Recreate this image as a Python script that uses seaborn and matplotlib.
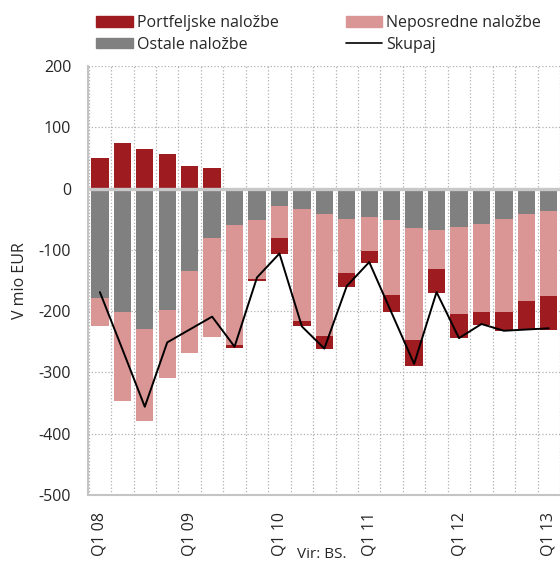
import numpy as np
import pandas as pd
import matplotlib
matplotlib.use("Agg")
import matplotlib.pyplot as plt
import seaborn as sns
from matplotlib.patches import Patch
from matplotlib.lines import Line2D

# Data (mio EUR)
quarters = ["Q1 08", "Q2 08", "Q3 08", "Q4 08",
            "Q1 09", "Q2 09", "Q3 09", "Q4 09",
            "Q1 10", "Q2 10", "Q3 10", "Q4 10",
            "Q1 11", "Q2 11", "Q3 11", "Q4 11",
            "Q1 12", "Q2 12", "Q3 12", "Q4 12",
            "Q1 13"]
portfeljske = [50, 74, 65, 56, 37, 33, -5, -3, -25, -9, -21, -24,
               -19, -28, -42, -40, -40, -21, -31, -47, -54]
neposredne = [-46, -145, -150, -111, -134, -163, -195, -95, -52, -183, -200, -87,
              -56, -121, -183, -64, -142, -144, -151, -142, -140]
ostale = [-178, -201, -229, -198, -135, -80, -60, -52, -29, -33, -41, -50,
          -46, -52, -64, -67, -62, -57, -50, -41, -36]
skupaj = [-169, -262, -356, -251, -230, -209, -258, -145, -106, -225, -261, -159,
          -120, -203, -286, -169, -244, -221, -232, -230, -228]
tick_labels = ["Q1 08", "Q1 09", "Q1 10", "Q1 11", "Q1 12", "Q1 13"]

c_port = "#9e1b20"
c_nep = "#da9694"
c_ost = "#808080"

sns.set_style("white")
plt.rcParams["font.family"] = ["Open Sans", "DejaVu Sans"]
plt.rcParams["axes.unicode_minus"] = False
fs = 11.5

df = pd.DataFrame({"q": quarters, "port": portfeljske, "nep": neposredne,
                   "ost": ostale, "sk": skupaj})
port = np.array(portfeljske, dtype=float)
nep = np.array(neposredne, dtype=float)
ost = np.array(ostale, dtype=float)

# positives stack up from 0, negatives stack down: ostale, neposredne, portfeljske
port_bottom = np.where(port >= 0, 0, ost + nep)

W, H = 560, 562
fig = plt.figure(figsize=(W / 100, H / 100), dpi=100)
ax = fig.add_axes([88 / W, 1 - 495 / H, 472 / W, (495 - 66) / H])

w = 0.77
sns.barplot(data=df, x="q", y="ost", color=c_ost, width=w, saturation=1,
            linewidth=0, ax=ax, zorder=2)
sns.barplot(x=df["q"], y=nep, bottom=ost, color=c_nep, width=w, saturation=1,
            linewidth=0, ax=ax, zorder=2)
sns.barplot(x=df["q"], y=port, bottom=port_bottom, color=c_port, width=w,
            saturation=1, linewidth=0, ax=ax, zorder=2)
sns.lineplot(x=np.arange(len(df)), y=df["sk"], color="black", linewidth=1.4,
             ax=ax, zorder=4)

ax.axhline(0, color="#c8c8c8", linewidth=2.4, zorder=3)

ax.set_ylim(-500, 200)
ax.set_yticks(np.arange(-500, 201, 100))
ax.set_xlim(-0.53, -0.53 + 472 / 22.5)
ax.set_xticks([quarters.index(t) for t in tick_labels])
ax.set_xticklabels(tick_labels, rotation=90)
ax.set_xticks(np.arange(-0.5, len(df), 1), minor=True)
ax.tick_params(axis="y", which="both", length=0, labelsize=fs, pad=12)
ax.tick_params(axis="x", which="both", length=0, labelsize=fs, pad=12)
ax.grid(axis="y", which="major", linestyle=":", color="#b0b0b0", linewidth=0.9)
ax.grid(axis="x", which="minor", linestyle=":", color="#b0b0b0", linewidth=0.9)
ax.grid(axis="x", which="major", visible=False)
ax.set_axisbelow(True)

for s in ["top", "right"]:
    ax.spines[s].set_visible(False)
for s in ["left", "bottom"]:
    ax.spines[s].set_color("#c4c4c4")
    ax.spines[s].set_linewidth(1.5)

ax.set_xlabel("")
ax.set_ylabel("V mio EUR", fontsize=fs, labelpad=8)
fig.text(322 / W, 0, "Vir: BS.", ha="center", va="bottom", fontsize=fs - 0.5)

handles = [Patch(color=c_port, label="Portfeljske naložbe"),
           Patch(color=c_ost, label="Ostale naložbe"),
           Patch(color=c_nep, label="Neposredne naložbe"),
           Line2D([], [], color="black", linewidth=1.2, label="Skupaj")]
fig.legend(handles=handles, ncol=2, loc="upper left",
           bbox_to_anchor=(96 / W, 1 - 15 / H),
           frameon=False, fontsize=fs, handlelength=2.3, handleheight=0.63,
           handletextpad=0.25, columnspacing=4.2, labelspacing=0.35,
           borderaxespad=0, borderpad=0)

fig.savefig("out.png", dpi=100)
